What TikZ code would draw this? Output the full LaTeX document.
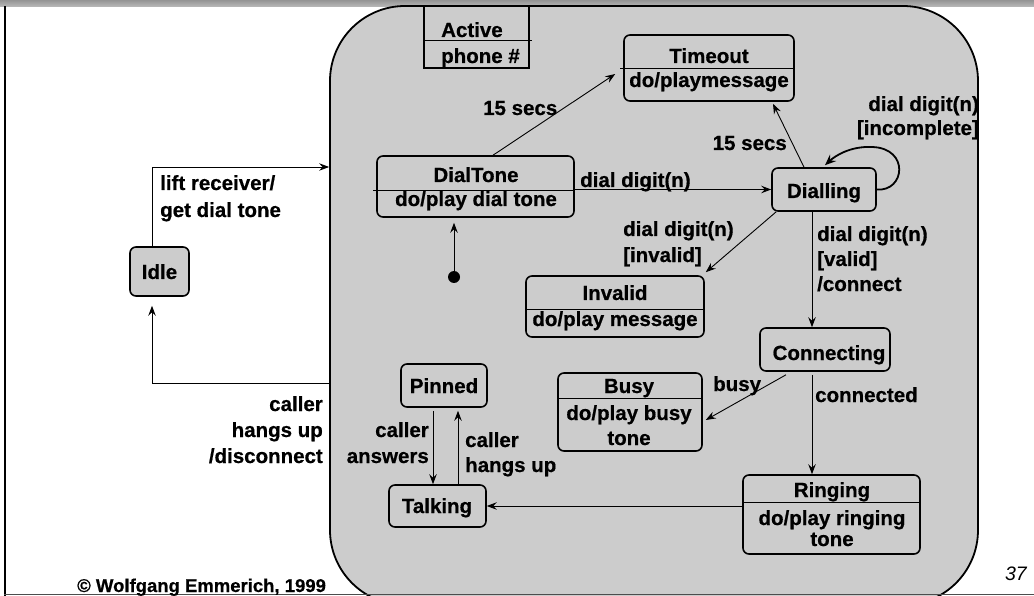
\documentclass[tikz,border=0pt]{standalone}
\usepackage{fontspec}
\setmainfont{Liberation Sans}[BoldFeatures={FakeBold=0.6}]
\usetikzlibrary{arrows.meta,calc}
\definecolor{statefill}{HTML}{CCCCCC}
\newcommand\lblfont{\fontsize{20.5}{25}\selectfont\bfseries}
\begin{document}
\begin{tikzpicture}[x=1pt,y=-1pt,
  stbox/.style={draw, line width=1.6pt, rounded corners=6pt, inner sep=0pt},
  lbl/.style={font=\lblfont, inner sep=0pt},
  arr/.style={line width=0.9pt, -{Stealth[length=10pt,width=7.5pt,inset=3.5pt]}},
  divl/.style={line width=0.9pt}]
\useasboundingbox (0,0) rectangle (1034,596);
\clip (0,0) rectangle (1034,596);
\fill[white] (0,0) rectangle (1034,596);
% top bar
\fill[top color=black!42, bottom color=black!28] (0,0) rectangle (1034,6.5);
% superstate
\node[draw, line width=1.8pt, fill=statefill, rounded corners=75pt, minimum width=648pt, minimum height=599pt, inner sep=0pt] (active) at (654,305.5) {};
% frame
\draw[line width=2pt] (4.5,6) -- (4.5,596);
\draw[line width=1.5pt, black!70] (4,594.5) -- (1034,594.5);
% Active tab
\node[draw, line width=1.6pt, minimum width=105pt, minimum height=62pt, inner sep=0pt] (tab) at (476.5,37) {};
\draw[divl] (tab.west |- 0,40) -- (532,40);
\node[lbl, anchor=base west] (tabname) at (441,37) {Active};
\node[lbl, anchor=base west] (tabparam) at (441,63) {phone \#};
% states
\node[stbox, minimum width=170pt, minimum height=66pt] (timeout) at (709,68) {};
\draw[divl] (620,68) -- (timeout.east);
\node[lbl, anchor=base] (timeoutT) at (709,63) {Timeout};
\node[lbl, anchor=base] (timeoutA) at (709,87) {do/playmessage};

\node[stbox, minimum width=197pt, minimum height=61pt] (dialtone) at (475.5,186.5) {};
\draw[divl] (373,190) -- (dialtone.east |- 0,190);
\node[lbl, anchor=base] (dialtoneT) at (476,182) {DialTone};
\node[lbl, anchor=base] (dialtoneA) at (476,206) {do/play dial tone};

\node[stbox, minimum width=104pt, minimum height=43pt] (dialling) at (824,189.5) {};
\node[lbl, anchor=base] (diallingT) at (824,198) {Dialling};

\node[stbox, minimum width=178pt, minimum height=61pt] (invalid) at (615,306.5) {};
\draw[divl] (invalid.west |- 0,309) -- (invalid.east |- 0,309);
\node[lbl, anchor=base] (invalidT) at (615,300) {Invalid};
\node[lbl, anchor=base] (invalidA) at (615,326) {do/play message};

\node[stbox, minimum width=130pt, minimum height=43pt] (connecting) at (825,349.5) {};
\node[lbl, anchor=base] (connectingT) at (829,360) {Connecting};

\node[stbox, minimum width=144pt, minimum height=78pt] (busy) at (630,412) {};
\draw[divl] (busy.west |- 0,398) -- (busy.east |- 0,398);
\node[lbl, anchor=base] (busyT) at (629,393) {Busy};
\node[lbl, anchor=base] (busyA) at (629,420) {do/play busy};
\node[lbl, anchor=base] (busyB) at (629,445) {tone};

\node[stbox, minimum width=177pt, minimum height=79pt] (ringing) at (831.5,514.5) {};
\draw[divl] (ringing.west |- 0,502) -- (ringing.east |- 0,502);
\node[lbl, anchor=base] (ringingT) at (832,497) {Ringing};
\node[lbl, anchor=base] (ringingA) at (832,525) {do/play ringing};
\node[lbl, anchor=base] (ringingB) at (832,546) {tone};

\node[stbox, minimum width=97pt, minimum height=42pt] (talking) at (437.5,506) {};
\node[lbl, anchor=base] (talkingT) at (437,513) {Talking};

\node[stbox, minimum width=86pt, minimum height=43pt] (pinned) at (444,385.5) {};
\node[lbl, anchor=base] (pinnedT) at (444,393) {Pinned};

\node[stbox, fill=statefill, minimum width=59pt, minimum height=49pt] (idle) at (159.5,271.5) {};
\node[lbl, anchor=base] (idleT) at (159.5,279) {Idle};

\node[circle, fill=black, minimum size=12pt, inner sep=0pt] (init) at (454,277) {};

% transitions
\draw[arr] (init) -- ($(init |- dialtone.south)+(0,5)$);
\draw[arr] ($(dialtone.north)+(17.5,0)$) -- ($(timeout.west)+(-8,6)$);
\draw[arr] (dialtone.east |- dialling.west) -- (dialling.west);
\draw[arr] ($(dialling.north)+(-20,0)$) -- ($(timeout.south)+(64,2)$);
\draw[line width=1.8pt, -{Stealth[length=11pt,width=9pt,inset=4pt]}] (dialling.east) .. controls (905,192) and (910,148) .. (872,147) .. controls (850,146) and (835,156) .. ($(dialling.north)+(1,-2)$);
\draw[arr] ($(dialling.south west)+(5,0)$) -- ($(invalid.north east)+(1,-3)$);
\draw[arr] ($(dialling.south)+(-12,0)$) -- ($(connecting.north)+(-13,0)$);
\draw[arr] ($(connecting.south)+(-39,3)$) -- ($(busy.east)+(3,8)$);
\draw[arr] ($(connecting.south)+(-13,3)$) -- ($(ringing.north)+(-19.5,0)$);
\draw[arr] (ringing.west |- talking.east) -- (talking.east);
\draw[arr] ($(pinned.south)+(-11,3)$) -- ($(talking.north)+(-4.5,0)$);
\draw[arr] ($(talking.north)+(20.5,0)$) -- ($(pinned.south)+(14,3)$);
\coordinate (c1) at (152,167);
\coordinate (c2) at (152,383);
\draw[arr] ($(idle.north)+(-7.5,0)$) -- (c1) -- (c1 -| active.west);
\draw[arr] (c2 -| active.west) -- (c2) -- ($(idle.south)+(-7.5,9)$);

% labels
\node[lbl, anchor=base west] (l1) at (483,115) {15 secs};
\node[lbl, anchor=base east] (l2) at (787,150) {15 secs};
\node[lbl, anchor=base west] (l3) at (580,187) {dial digit(n)};
\node[lbl, anchor=base east] (l4a) at (979,111) {dial digit(n)};
\node[lbl, anchor=base east] (l4b) at (979,135) {[incomplete]};
\node[lbl, anchor=base west] (l5a) at (623,236) {dial digit(n)};
\node[lbl, anchor=base west] (l5b) at (623,262) {[invalid]};
\node[lbl, anchor=base west] (l6a) at (817,241) {dial digit(n)};
\node[lbl, anchor=base west] (l6b) at (817,266) {[valid]};
\node[lbl, anchor=base west] (l6c) at (817,291) {/connect};
\node[lbl, anchor=base west] (l7) at (713,391) {busy};
\node[lbl, anchor=base west] (l8) at (815,402) {connected};
\node[lbl, anchor=base east] (l9a) at (429,437) {caller};
\node[lbl, anchor=base east] (l9b) at (429,463) {answers};
\node[lbl, anchor=base west] (l10a) at (465,447) {caller};
\node[lbl, anchor=base west] (l10b) at (465,472) {hangs up};
\node[lbl, anchor=base west] (l11a) at (160,190) {lift receiver/};
\node[lbl, anchor=base west] (l11b) at (160,217) {get dial tone};
\node[lbl, anchor=base east] (l12a) at (323,411) {caller};
\node[lbl, anchor=base east] (l12b) at (323,437) {hangs up};
\node[lbl, anchor=base east] (l12c) at (323,463) {/disconnect};
\node[font=\fontsize{18.5}{22}\selectfont\bfseries, inner sep=0pt, anchor=base west] (copy) at (77,592) {© Wolfgang Emmerich, 1999};
\node[font=\fontsize{19.5}{22}\selectfont\itshape, inner sep=0pt, anchor=base east] (pageno) at (1027,580) {37};
\end{tikzpicture}
\end{document}
